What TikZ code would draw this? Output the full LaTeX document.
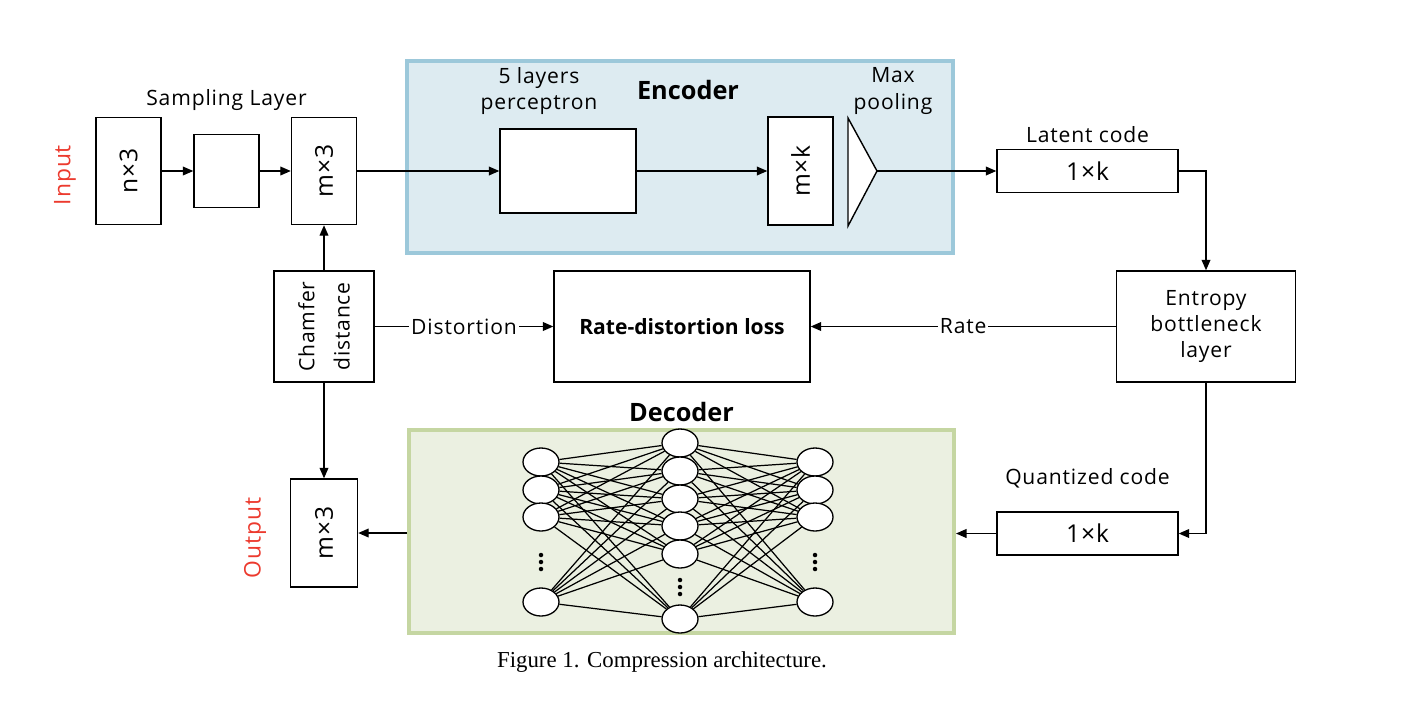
\documentclass[tikz,border=0pt]{standalone}
\usepackage{fontspec}
\setmainfont{Open Sans}[LetterSpace=4,BoldFeatures={LetterSpace=0}]
\newfontfamily\capfont{Liberation Serif}
\usetikzlibrary{arrows.meta}
\usetikzlibrary{positioning}
\usetikzlibrary{shapes.geometric}
\definecolor{encfill}{HTML}{DDEBF1}
\definecolor{encline}{HTML}{9CC8DA}
\definecolor{decfill}{HTML}{EBF0E1}
\definecolor{decline}{HTML}{C5D6A2}
\definecolor{iored}{HTML}{EC3A2E}
\begin{document}
\begin{tikzpicture}[x=0.02cm,y=-0.02cm,font=\fontsize{12}{15}\selectfont,
  box/.style={draw,fill=white,line width=0.8pt,inner sep=0pt,align=center},
  panel/.style={line width=2.3pt,inner sep=0pt},
  arr/.style={line width=0.8pt,-{Triangle[length=6pt,width=5pt]}},
  neuron/.style={draw,fill=white,ellipse,line width=0.75pt,minimum width=0.72cm,minimum height=0.56cm,inner sep=0pt},
  dim/.style={font=\fontsize{14}{16}\selectfont},
  io/.style={text=iored,rotate=90,font=\fontsize{13}{15}\selectfont},
  head/.style={font=\fontsize{14.4}{16}\bfseries}]
\useasboundingbox (0,0) rectangle (1412,704);
\node[panel,draw=encline,fill=encfill,minimum width=10.92cm,minimum height=3.84cm] (enc) at (680,157) {};
\node[panel,draw=decline,fill=decfill,minimum width=10.9cm,minimum height=4.06cm] (dec) at (681.5,531.5) {};
\node[box,minimum width=1.3cm,minimum height=2.14cm] (nin) at (128.5,171) {};
\node[dim,rotate=90] at (nin) {n×3};
\node[box,minimum width=1.3cm,minimum height=1.46cm] (samp) at (226.5,171) {};
\node[box,minimum width=1.3cm,minimum height=2.14cm] (min) at (324,171) {};
\node[dim,rotate=90] at (min) {m×3};
\node[box,minimum width=2.72cm,minimum height=1.68cm] (mlp) at (568,171) {};
\node[box,minimum width=1.3cm,minimum height=2.16cm] (mk) at (800.5,171) {};
\node[dim,rotate=90] at (mk) {m×k};
\draw[line width=0.8pt,fill=white] (848,118) -- (877,171) -- (848,226) -- cycle;
\coordinate (pooltip) at (877,171);
\node[box,dim,minimum width=3.62cm,minimum height=0.86cm] (lat) at (1087.5,171) {1×k};
\node[box,minimum width=3.58cm,minimum height=2.22cm] (ent) at (1206,326.5) {Entropy\\bottleneck\\layer};
\node[box,minimum width=5.12cm,minimum height=2.22cm,font=\fontsize{12}{15}\bfseries] (rd) at (682,326.5) {Rate-distortion loss};
\node[box,minimum width=2cm,minimum height=2.22cm] (cham) at (324,326.5) {};
\node[rotate=90,align=center,font=\fontsize{12}{20}\selectfont] at (cham) {Chamfer\\distance};
\node[box,dim,minimum width=3.62cm,minimum height=0.86cm] (qnt) at (1087.5,533.5) {1×k};
\node[box,minimum width=1.34cm,minimum height=2.16cm] (mout) at (324,533) {};
\node[dim,rotate=90] at (mout) {m×3};
\node[io] (in) at (65,175) {Input};
\node[io] (out) at (255,538) {Output};
\node[above=0.35cm of samp] (samplab) {Sampling Layer};
\node[align=center] (mlplab) at (539,91) {5 layers\\perceptron};
\node[head] (enclab) at (688,90) {Encoder};
\node[align=center] (poollab) at (893,91) {Max\\pooling};
\node[above=0pt of lat] (latlab) {Latent code};
\node[above=0.35cm of qnt] (qntlab) {Quantized code};
\node[head,above=0pt of dec] (declab) {Decoder};
\node[font=\capfont\fontsize{13}{15}\selectfont] (cap) at (662,662) {Figure 1. Compression architecture.};
\foreach \n/\y in {1/462,2/490,3/517,4/602} {
  \node[neuron] (l\n) at (541,\y) {};
  \node[neuron] (r\n) at (815,\y) {};
}
\foreach \n/\y in {1/443,2/471,3/499,4/526,5/554,6/619}
  \node[neuron] (h\n) at (680,\y) {};
\foreach \i in {1,...,4}
  \foreach \j in {1,...,6} {
    \draw[line width=0.7pt] (l\i) -- (h\j);
    \draw[line width=0.7pt] (h\j) -- (r\i);
  }
\foreach \d in {0,7,14} {
  \fill (541,555+\d) circle[radius=0.045cm];
  \fill (680,580+\d) circle[radius=0.045cm];
  \fill (815,555+\d) circle[radius=0.045cm];
}
\draw[arr] (nin) -- (samp);
\draw[arr] (samp) -- (min);
\draw[arr] (min) -- (mlp);
\draw[arr] (mlp) -- (mk);
\draw[arr] (pooltip) -- (lat);
\draw[arr] (lat.east) -| (ent.north);
\draw[arr] (ent.south) |- (qnt.east);
\draw[arr] (qnt.west) -- (qnt.west -| dec.east);
\draw[arr] (dec.west |- mout) -- (mout);
\draw[arr] (cham) -- (min);
\draw[arr] (cham) -- (mout);
\draw[arr] (cham) -- node[fill=white,inner sep=1pt] {Distortion} (rd);
\draw[arr] (ent) -- node[fill=white,inner sep=1pt] {Rate} (rd);
\end{tikzpicture}
\end{document}
